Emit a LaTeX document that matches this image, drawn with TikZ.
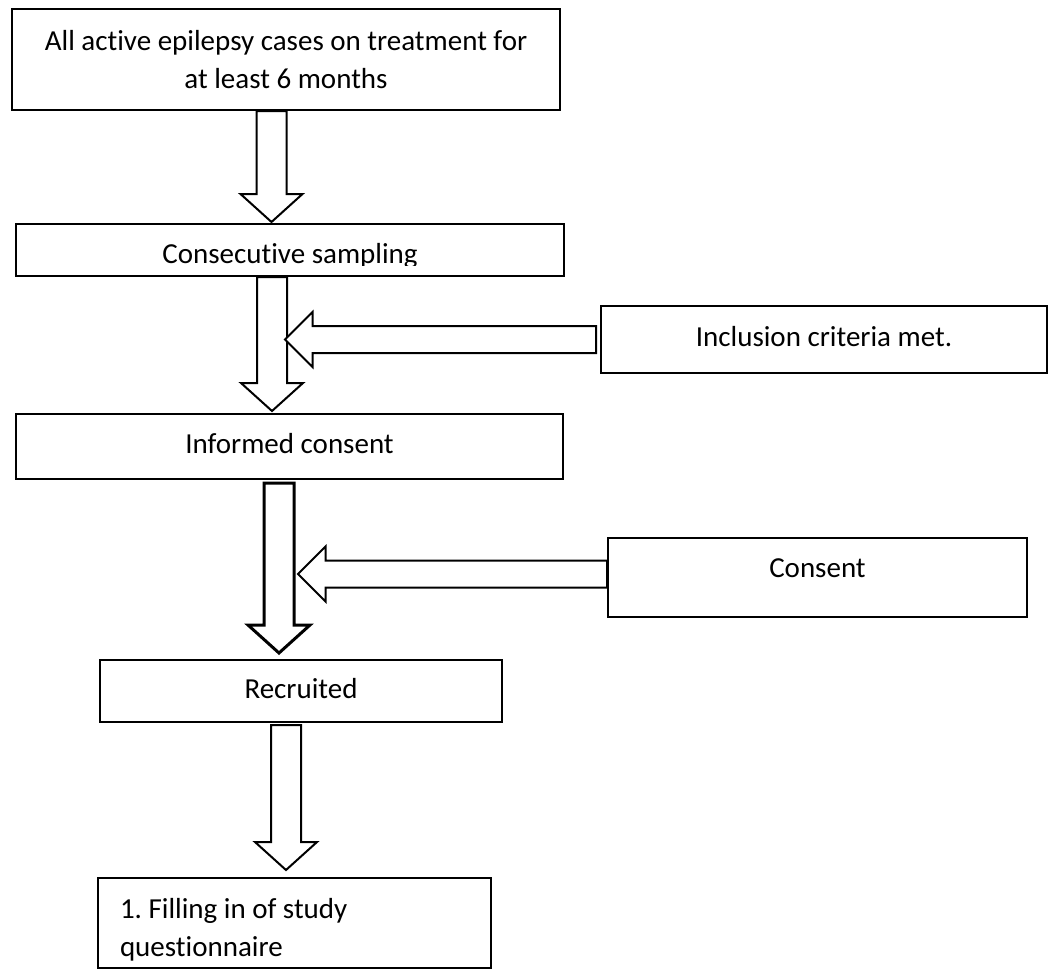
\documentclass[tikz,border=0pt]{standalone}
\usepackage{fontspec}
\setmainfont{Carlito}[Ligatures=NoCommon]
\frenchspacing
\usetikzlibrary{calc,positioning}
\tikzset{
  stage/.style      = {shape=rectangle, draw, line width=2pt, align=center},
  oneline/.style    = {text height=20pt, text depth=6pt},
  blockarrow/.style = {draw, line width=2pt, fill=white, line join=miter}
}
% hollow block arrows: top point / tip, and start point / tip
\newcommand{\blockdown}[3][]{%
  \draw [blockarrow, #1] let \p1 = #2, \p2 = #3 in
    (\x2-15pt,\y1) -- (\x2-15pt,\y2+28pt) -- (\x2-31pt,\y2+28pt) -- (\x2,\y2)
    -- (\x2+31pt,\y2+28pt) -- (\x2+15pt,\y2+28pt) -- (\x2+15pt,\y1) -- cycle;}
\newcommand{\blockleft}[2]{%
  \draw [blockarrow] let \p1 = #1, \p2 = #2 in
    (\x1,\y2+13.5pt) -- (\x2+27.5pt,\y2+13.5pt) -- (\x2+27.5pt,\y2+27.5pt) -- (\x2,\y2)
    -- (\x2+27.5pt,\y2-27.5pt) -- (\x2+27.5pt,\y2-13.5pt) -- (\x1,\y2-13.5pt) -- cycle;}

\begin{document}
\begin{tikzpicture}
  [
    x                 = 1pt,
    y                 = -1pt,
    every node/.style = {font=\fontsize{29}{38}\selectfont\frenchspacing}
  ]
  \useasboundingbox (0,0) rectangle (1053,970);
  % main column
  \node [stage, minimum width=548pt, minimum height=101pt] (start) at (286,59.5)
    {All active epilepsy cases on treatment for\\at least 6 months};
  \node [stage, below=112pt of start, xshift=4pt, minimum width=548pt, minimum height=52pt,
         path picture={
           \clip ([yshift=11pt]path picture bounding box.south west)
             rectangle (path picture bounding box.north east);
           \node [anchor=base] (samplingtext) at ([yshift=13pt]path picture bounding box.south)
             {Consecutive sampling};}] (sampling) {};
  \node [stage, oneline, below=136pt of sampling, xshift=-0.5pt,
         minimum width=547pt, minimum height=65pt] (informed) {Informed consent};
  \node [stage, oneline, below=179pt of informed, xshift=11.5pt,
         minimum width=402pt, minimum height=62pt] (recruited) {Recruited};
  \node [stage, below=154pt of recruited, xshift=-6.5pt, align=flush left,
         text width=349pt, inner xsep=22pt, minimum height=90pt,
         text height=20pt, text depth=30pt] (filling)
    {1. Filling in of study\\questionnaire};
  % side boxes
  \node [stage, oneline, minimum width=446pt, minimum height=67pt] (inclusion) at (824,339.5)
    {Inclusion criteria met.};
  \node [stage, oneline, text depth=21pt, minimum width=419pt, minimum height=79pt]
    (consent) at (817.5,577.5) {Consent};
  % arrows
  \blockdown{(start.south)}{($(sampling.north)+(-18.5,-1)$)}
  \blockdown{(sampling.south)}{($(informed.north)+(-17.5,-2)$)}
  \blockdown[line width=3pt]{($(informed.south)+(0,3)$)}{($(recruited.north)+(-22,-6)$)}
  \blockdown{($(recruited.south)+(0,2)$)}{($(filling.north)+(-8.5,-7)$)}
  \blockleft{($(inclusion.west)+(-4,0)$)}{($(inclusion.west)+(-315,0)$)}
  \blockleft{(consent.west)}{($(consent.west)+(-309,-3.5)$)}
\end{tikzpicture}
\end{document}
